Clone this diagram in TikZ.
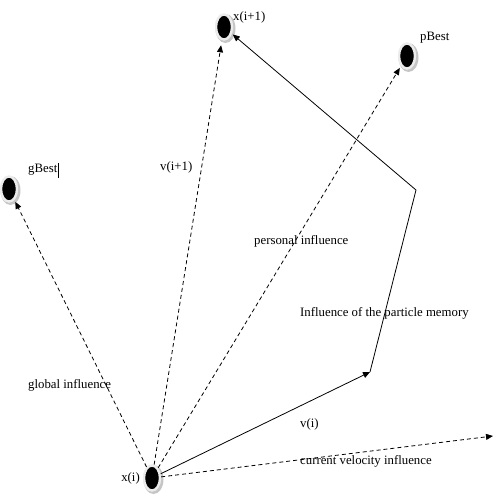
\documentclass[tikz,border=0pt]{standalone}
\usepackage{fontspec}
\setmainfont{Liberation Serif}
\usetikzlibrary{shapes.geometric,arrows.meta}
\begin{document}
\begin{tikzpicture}[x=1pt,y=-1pt,
  particle/.style={ellipse,fill=black,draw=gray!15,line width=2.4pt,minimum width=16pt,minimum height=25pt,inner sep=0pt},
  lbl/.style={anchor=west,inner sep=0pt,font=\fontsize{12.8}{15}\selectfont},
  dsh/.style={line width=0.8pt,dash pattern=on 4pt off 3pt},
  sol/.style={line width=0.8pt},
  tip/.style={-{Triangle[length=7pt,width=6pt]}}]
\useasboundingbox (0,0) rectangle (493,496);
% shadows
\foreach \p in {(153.5,479.5),(225.5,28.5),(408.5,57.5),(10.5,190.5)}{
  \fill[gray!45] \p ellipse (10pt and 14.5pt);}
\node[particle] (xi) at (152,478) {};
\node[particle] (xn) at (224,27) {};
\node[particle] (pb) at (407,56) {};
\node[particle] (gb) at (9,189) {};
\coordinate (m) at (370,372);
\coordinate (k) at (416,190);
\coordinate (vend) at (493,436);
% labels
\node[lbl] (lxn) at (233,17) {x(i+1)};
\node[lbl] (lpb) at (420,38) {pBest};
\node[lbl] (lgb) at (28,170) {gBest};
\draw[line width=0.5pt] (lgb.east) ++(1,-7) -- ++(0,15);
\node[lbl] (lv1) at (160,167) {v(i+1)};
\node[lbl] (lper) at (254,241) {personal influence};
\node[lbl] (lmem) at (300,313) {Influence of the particle memory};
\node[lbl] (lglo) at (28,385) {global influence};
\node[lbl] (lvi) at (300,424) {v(i)};
\node[lbl] (lcur) at (300,461) {current velocity influence};
\node[lbl,anchor=east] (lxi) at (140,478) {x(i)};
% connectors
\draw[dsh,tip,shorten >=2pt] (xi) -- (gb);
\draw[dsh,tip,shorten >=5pt] (xi) -- (xn);
\draw[dsh,tip,shorten >=2pt] (xi) -- (pb);
\draw[dsh,tip] (xi) -- (vend);
\draw[sol,tip] (xi) -- (m);
\draw[sol] (m) -- (k);
\draw[sol,tip,shorten >=1pt] (k) -- (xn);
\end{tikzpicture}
\end{document}
